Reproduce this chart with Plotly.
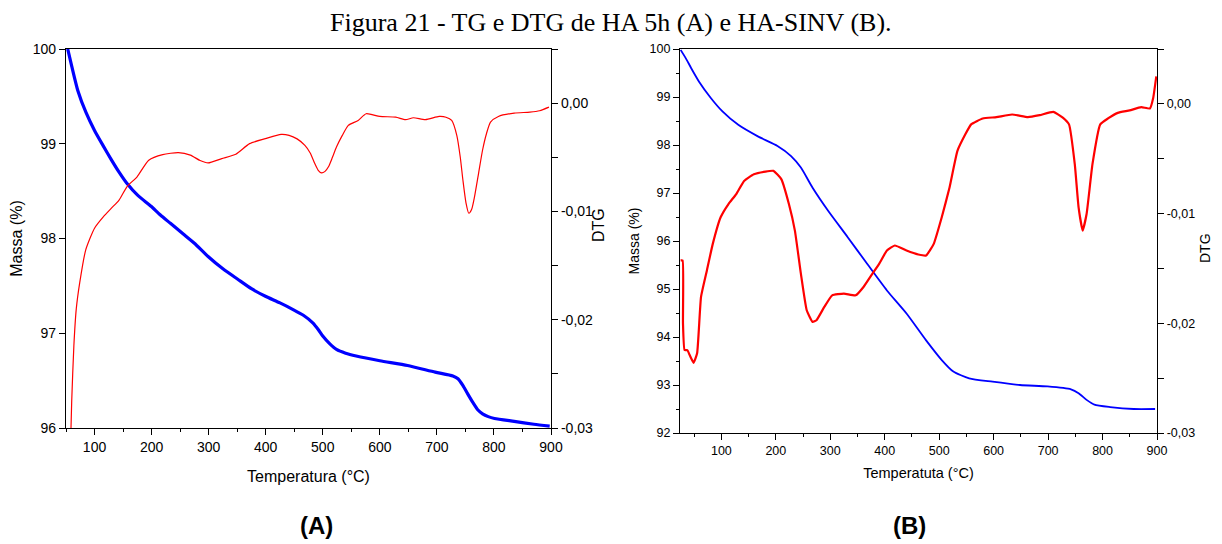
import plotly.graph_objects as go

# ---------------- Data ----------------
# Panel A: HA 5h
tg_a_temp = [53, 60, 70.8, 85, 100, 115, 129.6, 143, 157, 175, 199, 215, 233, 255, 275, 299, 325, 351,
             375, 399.5, 425, 448, 466, 482.5, 492, 500, 512, 524, 540, 558.6, 600, 648.6, 697, 728,
             737, 745.5, 754, 763, 772, 780, 790, 801, 835.5, 870, 897.7]
tg_a_mass = [100.0, 99.82, 99.56, 99.33, 99.14, 98.98, 98.83, 98.70, 98.58, 98.46, 98.34, 98.25, 98.16,
             98.05, 97.95, 97.81, 97.68, 97.57, 97.47, 97.39, 97.32, 97.25, 97.19, 97.11, 97.04, 96.97,
             96.89, 96.83, 96.79, 96.76, 96.71, 96.66, 96.59, 96.55, 96.52, 96.45, 96.36, 96.27, 96.19,
             96.15, 96.12, 96.10, 96.07, 96.04, 96.02]

dtg_a_temp = [58, 60, 63.8, 68, 74, 84.6, 100, 115.7, 129.6, 143, 157, 174.6, 195, 219.5, 247, 268, 285,
              299, 323, 347.6, 371.8, 399.5, 427, 441, 455, 468.7, 478, 486, 492, 497.8, 504, 510, 517,
              524, 534, 544.8, 562, 576, 600, 627.9, 645, 658.9, 679.8, 704, 716, 726, 735, 741,
              745.6, 751, 756, 761, 766, 773, 780, 787, 794, 807.8, 835.5, 863, 880, 896.4]
dtg_a_vals = [-0.0315, -0.0275, -0.0224, -0.0190, -0.0166, -0.01355, -0.01155, -0.01048, -0.0097,
              -0.00895, -0.0077, -0.0068, -0.00527, -0.00475, -0.00457, -0.0048, -0.0053, -0.00552,
              -0.00512, -0.00472, -0.00374, -0.00328, -0.00288, -0.00297, -0.0033, -0.0039, -0.0046,
              -0.00558, -0.0062, -0.00644, -0.0063, -0.00588, -0.0050, -0.00405, -0.0030, -0.00205,
              -0.0016, -0.00098, -0.00123, -0.00129, -0.00153, -0.00135, -0.00153, -0.00123, -0.0013,
              -0.0016, -0.00300, -0.0050, -0.0071, -0.0092, -0.01017, -0.0098, -0.00864, -0.0065,
              -0.00435, -0.0028, -0.00175, -0.00123, -0.00092, -0.00083, -0.0007, -0.00037]

# Panel B: HA-SINV
tg_b_temp = [25.2, 35, 44.6, 59, 80.6, 102, 131, 167, 203, 228, 246, 267.5, 296, 332, 368, 404, 440,
             476, 504.7, 526, 555, 598, 648.5, 699, 742, 756, 770.7, 785, 814, 857, 896.5]
tg_b_mass = [99.98, 99.80, 99.60, 99.32, 98.98, 98.70, 98.42, 98.18, 97.98, 97.77, 97.53, 97.11, 96.63,
             96.08, 95.52, 94.97, 94.49, 93.93, 93.52, 93.28, 93.14, 93.07, 93.00, 92.97, 92.91, 92.83,
             92.69, 92.59, 92.54, 92.50, 92.50]

dtg_b_temp = [25.2, 28.8, 29.5, 32.4, 37.5, 41.8, 49, 55.4, 62.6, 73.4, 84.2, 98.6, 113, 127.3, 141.7,
              159.7, 181, 195.6, 210, 224, 235, 246, 256.7, 267.5, 274.7, 289, 303.5, 325, 346.6, 361,
              375.3, 389.7, 404, 418.5, 440, 461.6, 476, 490, 504.7, 519, 533.5, 548, 558.7, 580, 605,
              634, 663, 684.5, 709.6, 727.6, 738.4, 749, 756, 763.5, 770.7, 781.5, 795.8, 810, 828,
              849.8, 871, 887, 893, 898.7]
dtg_b_vals = [-0.01427, -0.01427, -0.0200, -0.02244, -0.02244, -0.0229, -0.0236, -0.02274, -0.0176,
              -0.01518, -0.01276, -0.01034, -0.00913, -0.00822, -0.00702, -0.00641, -0.00617, -0.00611,
              -0.00686, -0.00913, -0.01155, -0.01548, -0.01881, -0.01987, -0.01972, -0.01851, -0.01745,
              -0.0173, -0.01745, -0.01669, -0.01563, -0.01458, -0.01337, -0.01291, -0.01337, -0.01373,
              -0.01382, -0.01276, -0.01034, -0.00762, -0.00429, -0.00278, -0.00187, -0.00133, -0.00121,
              -0.00097, -0.00121, -0.00103, -0.00073, -0.00127, -0.00187, -0.0055, -0.00943, -0.01155,
              -0.01004, -0.0055, -0.00187, -0.00133, -0.00082, -0.0006, -0.0003, -0.00042, 0.00054,
              0.00251]

# Tick labels
temp_ticks = [100, 200, 300, 400, 500, 600, 700, 800, 900]
mass_a_ticks = [96, 97, 98, 99, 100]
mass_b_ticks = [92, 93, 94, 95, 96, 97, 98, 99, 100]
dtg_ticks = [-0.03, -0.02, -0.01, 0.0]
dtg_ticktext = ["-0,03", "-0,02", "-0,01", "0,00"]

title_text = "Figura 21 - TG e DTG de HA 5h (A) e HA-SINV (B)."

# ---------------- Layout helpers ----------------
# The page body adds an 8 px margin, so the figure is drawn 8 px smaller and
# reference pixel positions are shifted by that offset.
OFF = 8
W, H = 1222 - OFF, 544 - OFF


def px_x(p):
    return (p - OFF) / W


def px_y(p):
    return 1 - (p - OFF) / H


SANS = "Liberation Sans, Arial, sans-serif"
axis_common = dict(showline=True, linecolor="black", linewidth=1.3, ticks="outside",
                   tickcolor="black", ticklen=6, tickwidth=1.3, showgrid=False, zeroline=False,
                   color="black", automargin=False)

fig = go.Figure()

# Panel A traces
fig.add_trace(go.Scatter(x=tg_a_temp, y=tg_a_mass, mode="lines", line=dict(color="#0000ff", width=3.2, shape="spline", smoothing=0.6),
                         xaxis="x", yaxis="y", showlegend=False, name="TG A"))
fig.add_trace(go.Scatter(x=dtg_a_temp, y=dtg_a_vals, mode="lines", line=dict(color="#ff0000", width=1.2, shape="spline", smoothing=0.6),
                         xaxis="x", yaxis="y2", showlegend=False, name="DTG A"))
# Panel B traces
fig.add_trace(go.Scatter(x=tg_b_temp, y=tg_b_mass, mode="lines", line=dict(color="#0000ff", width=1.8, shape="spline", smoothing=0.6),
                         xaxis="x2", yaxis="y3", showlegend=False, name="TG B"))
fig.add_trace(go.Scatter(x=dtg_b_temp, y=dtg_b_vals, mode="lines", line=dict(color="#ff0000", width=2.2, shape="spline", smoothing=0.4),
                         xaxis="x2", yaxis="y4", showlegend=False, name="DTG B"))

fig.update_layout(
    width=W, height=H,
    margin=dict(l=0, r=0, t=0, b=0, autoexpand=False),
    showlegend=False,
    paper_bgcolor="white", plot_bgcolor="white",
    font=dict(family=SANS, color="black"),
    xaxis=dict(**axis_common, domain=[px_x(66), px_x(551)], range=[50, 900], anchor="y",
               tickvals=temp_ticks, mirror=True, tickfont=dict(size=14),
               minor=dict(ticks="outside", ticklen=3, tickcolor="black", dtick=50, tick0=50, showgrid=False),
               title=dict(text="Temperatura (°C)", font=dict(size=16), standoff=16)),
    yaxis=dict(**axis_common, domain=[px_y(428), px_y(49)], range=[96, 100], anchor="x",
               tickvals=mass_a_ticks, tickfont=dict(size=14),
               title=dict(text="Massa (%)", font=dict(size=16), standoff=8)),
    yaxis2=dict(**axis_common, domain=[px_y(428), px_y(49)], range=[-0.03, 0.005], anchor="x",
                overlaying="y", side="right", tickvals=dtg_ticks, ticktext=dtg_ticktext,
                tickfont=dict(size=14),
                minor=dict(ticks="outside", ticklen=6, tickcolor="black", dtick=0.005, tick0=0, showgrid=False)),
    xaxis2=dict(**axis_common, domain=[px_x(680), px_x(1157)], range=[24, 900], anchor="y3",
                tickvals=temp_ticks, mirror=True, tickfont=dict(size=12.5),
                minor=dict(ticks="outside", ticklen=3, tickcolor="black", dtick=50, tick0=50, showgrid=False),
                title=dict(text="Temperatuta (°C)", font=dict(size=14.5), standoff=10)),
    yaxis3=dict(**axis_common, domain=[px_y(433), px_y(49)], range=[92, 100], anchor="x2",
                tickvals=mass_b_ticks, tickfont=dict(size=12.5),
                minor=dict(ticks="outside", ticklen=3, tickcolor="black", dtick=0.5, tick0=0, showgrid=False),
                title=dict(text="Massa (%)", font=dict(size=14), standoff=6)),
    yaxis4=dict(**axis_common, domain=[px_y(433), px_y(49)], range=[-0.03, 0.005], anchor="x2",
                overlaying="y3", side="right", tickvals=dtg_ticks, ticktext=dtg_ticktext,
                tickfont=dict(size=12.5),
                minor=dict(ticks="outside", ticklen=6, tickcolor="black", dtick=0.005, tick0=0, showgrid=False)),
    annotations=[
        dict(text=title_text, x=px_x(611), y=px_y(22), xref="paper", yref="paper", showarrow=False,
             font=dict(family="Liberation Serif, Times New Roman, serif", size=26, color="black"),
             xanchor="center", yanchor="middle"),
        dict(text="DTG", x=px_x(598), y=px_y(225), xref="paper", yref="paper", showarrow=False,
             textangle=-90, font=dict(size=16, color="black"), xanchor="center", yanchor="middle"),
        dict(text="DTG", x=px_x(1205), y=px_y(248), xref="paper", yref="paper", showarrow=False,
             textangle=-90, font=dict(size=14, color="black"), xanchor="center", yanchor="middle"),
        dict(text="<b>(A)</b>", x=px_x(316), y=px_y(525), xref="paper", yref="paper", showarrow=False,
             font=dict(size=24, color="black"), xanchor="center", yanchor="middle"),
        dict(text="<b>(B)</b>", x=px_x(909), y=px_y(525), xref="paper", yref="paper", showarrow=False,
             font=dict(size=24, color="black"), xanchor="center", yanchor="middle"),
    ],
)

fig.write_html("out.html")
